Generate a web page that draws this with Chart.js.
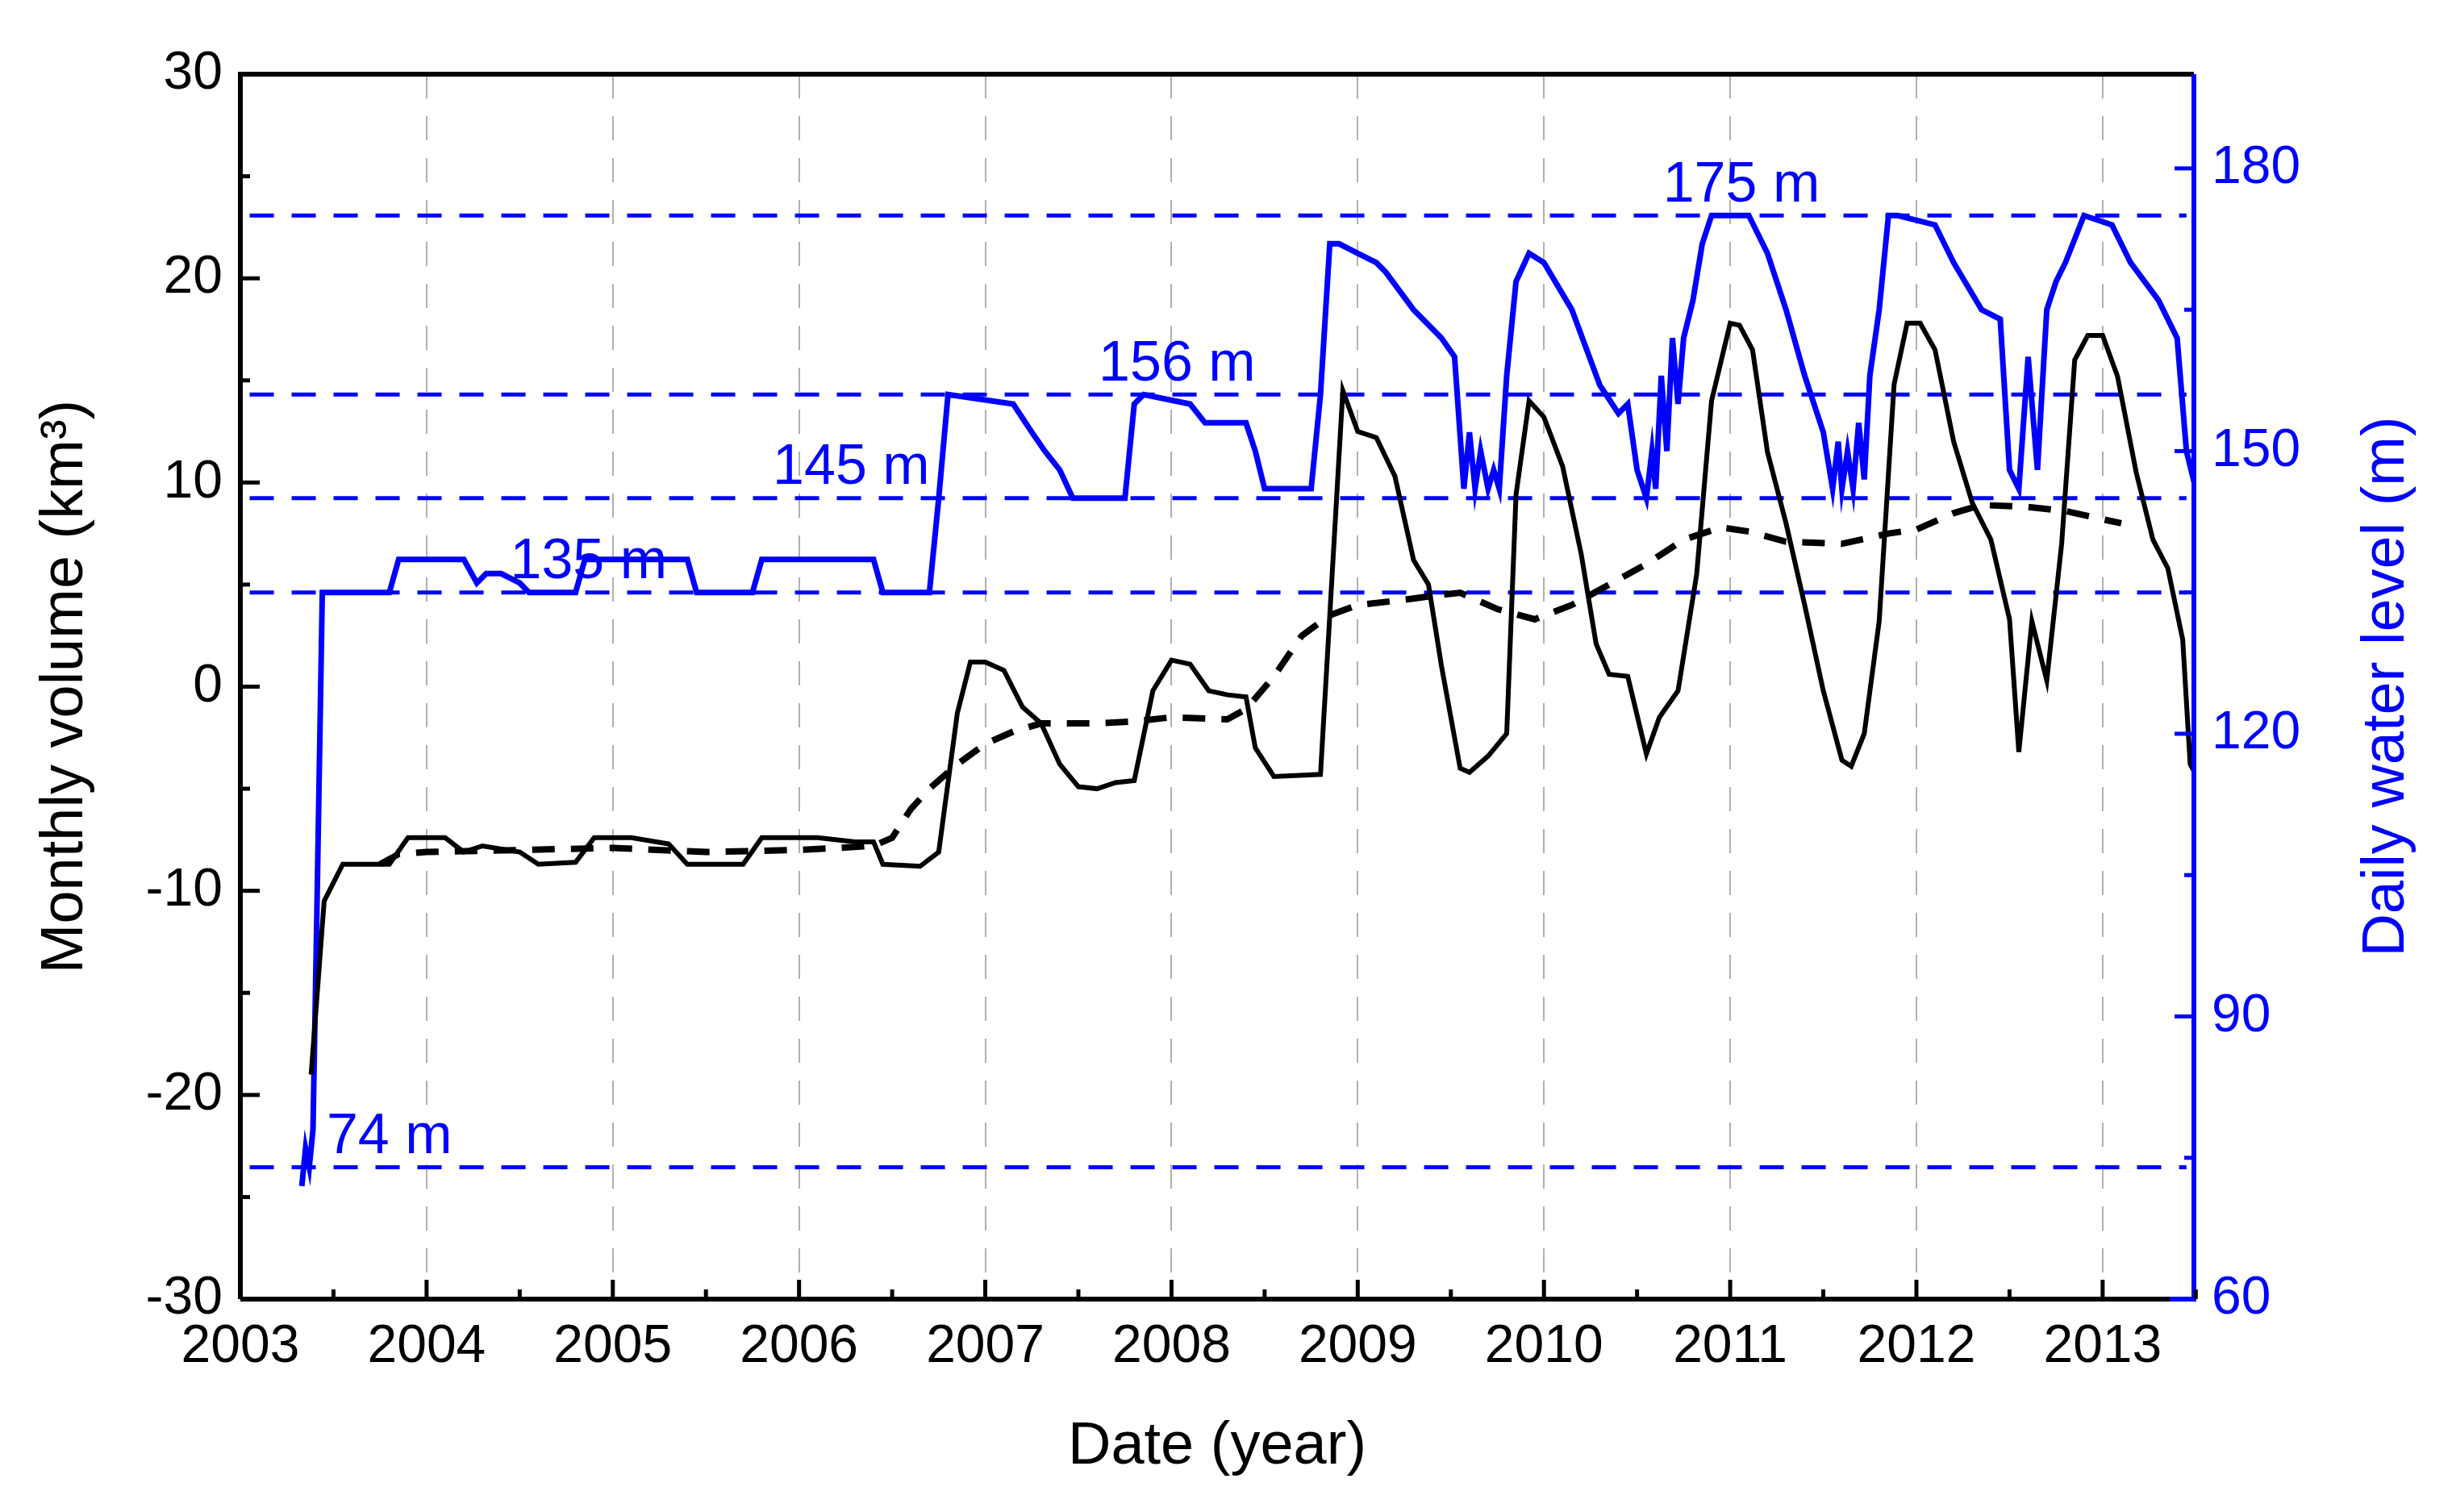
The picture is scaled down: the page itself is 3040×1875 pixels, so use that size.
<!DOCTYPE html>
<html><head><meta charset="utf-8">
<script src="https://cdn.jsdelivr.net/npm/chart.js@4/dist/chart.umd.min.js"></script>
<style>html,body{margin:0;padding:0;background:#fff}#wrap{width:3040px;height:1875px}</style>
</head><body><div id="wrap"><canvas id="c" width="3040" height="1875"></canvas></div>
<script>
const levelYears=[2003.33,2003.35,2003.37,2003.39,2003.41,2003.44,2003.46,2003.8,2003.85,2004.2,2004.27,2004.32,2004.4,2004.5,2004.55,2004.8,2004.85,2005.4,2005.45,2005.75,2005.8,2006.4,2006.45,2006.7,2006.75,2006.8,2007.15,2007.25,2007.32,2007.4,2007.47,2007.75,2007.8,2007.85,2008.1,2008.18,2008.4,2008.45,2008.5,2008.75,2008.8,2008.85,2008.9,2009.0,2009.1,2009.15,2009.3,2009.45,2009.52,2009.57,2009.6,2009.63,2009.66,2009.7,2009.73,2009.76,2009.8,2009.85,2009.92,2010.0,2010.15,2010.3,2010.4,2010.45,2010.5,2010.55,2010.58,2010.6,2010.63,2010.66,2010.69,2010.72,2010.75,2010.8,2010.85,2010.9,2011.1,2011.2,2011.3,2011.4,2011.5,2011.55,2011.58,2011.6,2011.63,2011.66,2011.69,2011.72,2011.75,2011.8,2011.85,2011.9,2012.1,2012.2,2012.35,2012.45,2012.5,2012.55,2012.6,2012.65,2012.7,2012.75,2012.8,2012.9,2013.05,2013.15,2013.3,2013.4,2013.45,2013.5];
const levelValues=[72,76,74,78,100,135,135,135,138.5,138.5,136,137,137,136,135,135,138.5,138.5,135,135,138.5,138.5,135,135,145,156,155,152,150,148,145,145,155,156,155,153,153,150,146,146,156,172,172,171,170,169,165,162,160,146,152,146,150,146,148,146,158,168,171,170,165,157,154,155,148,145,150,146,158,150,162,155,162,166,172,175,175,171,165,158,152,146,151,146,150,146,153,147,158,165,175,175,174,170,165,164,148,146,160,148,165,168,170,175,174,170,166,162,150,146];
const volYears=[2003.38,2003.45,2003.55,2003.8,2003.9,2004.1,2004.2,2004.3,2004.5,2004.6,2004.8,2004.9,2005.1,2005.3,2005.4,2005.7,2005.8,2006.1,2006.3,2006.4,2006.45,2006.65,2006.75,2006.85,2006.92,2007.0,2007.1,2007.2,2007.3,2007.4,2007.5,2007.6,2007.7,2007.8,2007.9,2008.0,2008.1,2008.2,2008.3,2008.4,2008.45,2008.55,2008.8,2008.85,2008.92,2009.0,2009.1,2009.2,2009.3,2009.38,2009.45,2009.55,2009.6,2009.7,2009.8,2009.85,2009.92,2010.0,2010.1,2010.2,2010.28,2010.35,2010.45,2010.55,2010.62,2010.72,2010.82,2010.9,2011.0,2011.05,2011.12,2011.2,2011.3,2011.4,2011.5,2011.6,2011.65,2011.72,2011.8,2011.88,2011.95,2012.02,2012.1,2012.2,2012.3,2012.4,2012.5,2012.55,2012.62,2012.7,2012.78,2012.85,2012.92,2013.0,2013.08,2013.18,2013.27,2013.35,2013.43,2013.47,2013.5];
const volValues=[-19,-10.5,-8.7,-8.7,-7.4,-7.4,-8.1,-7.8,-8.1,-8.7,-8.6,-7.4,-7.4,-7.7,-8.7,-8.7,-7.4,-7.4,-7.6,-7.6,-8.7,-8.8,-8.1,-1.3,1.2,1.2,0.8,-1,-1.8,-3.8,-4.9,-5,-4.7,-4.6,-0.2,1.3,1.1,-0.2,-0.4,-0.5,-3,-4.4,-4.3,3.5,14.5,12.5,12.2,10.3,6.2,5.0,1.0,-4,-4.2,-3.4,-2.3,9.4,14,13.2,10.8,6.5,2.1,0.6,0.5,-3.3,-1.5,-0.2,5.5,14,17.8,17.7,16.5,11.5,8,4,-0.2,-3.6,-3.9,-2.3,3.2,14.8,17.8,17.8,16.5,12,9,7.2,3.3,-3.2,3.2,0.3,7,16,17.2,17.2,15.2,10.5,7.2,5.8,2.3,-3.8,-4.3];
const trendYears=[2003.75,2003.85,2004.0,2004.5,2005.0,2005.5,2006.0,2006.4,2006.5,2006.6,2006.7,2006.85,2007.0,2007.15,2007.3,2007.6,2007.8,2008.0,2008.3,2008.4,2008.55,2008.7,2008.85,2009.0,2009.2,2009.45,2009.55,2009.75,2009.95,2010.15,2010.35,2010.55,2010.75,2010.95,2011.1,2011.3,2011.6,2011.85,2012.0,2012.2,2012.35,2012.6,2012.8,2013.0,2013.1];
const trendValues=[-8.7,-8.2,-8.1,-8.0,-7.9,-8.1,-8.0,-7.8,-7.4,-6,-5,-3.8,-2.8,-2.2,-1.8,-1.8,-1.7,-1.5,-1.6,-1.1,0.5,2.5,3.5,4,4.2,4.5,4.6,3.8,3.3,4,5,6,7.2,7.8,7.6,7.1,7.0,7.5,7.7,8.5,8.9,8.8,8.6,8.2,8.0];
const refLevels=[175,156,145,135,74];
const refLabels=[{t:'175 m',x:2011.06,y:176.5},{t:'156 m',x:2008.03,y:157.5},{t:'145 m',x:2006.28,y:146.5},{t:'135 m',x:2004.87,y:136.5},{t:'74 m',x:2003.8,y:75.5}];
const xTicks=[2003,2004,2005,2006,2007,2008,2009,2010,2011,2012,2013];
const BLUE='#0000ff';
const pts=(xs,ys)=>xs.map((x,i)=>({x:x,y:ys[i]}));
const datasets=[];
refLevels.forEach(v=>datasets.push({data:[{x:2003.05,y:v},{x:2013.45,y:v}],yAxisID:'y2',borderColor:BLUE,borderWidth:5,borderDash:[30,22],pointRadius:0,order:3}));
datasets.push({data:pts(levelYears,levelValues),yAxisID:'y2',borderColor:BLUE,borderWidth:7,pointRadius:0,tension:0,order:2});
datasets.push({data:pts(trendYears,trendValues),yAxisID:'y',borderColor:'#000',borderWidth:8,borderDash:[28,20],pointRadius:0,order:1});
datasets.push({data:pts(volYears,volValues),yAxisID:'y',borderColor:'#000',borderWidth:6,pointRadius:0,order:0});
const FONT='Arial, "Liberation Sans", sans-serif';
const deco={id:'deco',afterDraw(ch){
 const c=ch.ctx,a=ch.chartArea,x=ch.scales.x,y=ch.scales.y,y2=ch.scales.y2;
 c.save();
 c.setLineDash([]);
 c.lineWidth=6;c.strokeStyle='#000';
 c.beginPath();c.moveTo(a.left,a.bottom);c.lineTo(a.left,a.top);c.lineTo(a.right,a.top);c.stroke();
 c.beginPath();c.moveTo(a.left,a.bottom);c.lineTo(a.right-30,a.bottom);c.stroke();
 c.strokeStyle=BLUE;c.beginPath();c.moveTo(a.right-30,a.bottom);c.lineTo(a.right,a.bottom);c.lineTo(a.right,a.top);c.stroke();
 c.lineWidth=5;c.strokeStyle='#000';
 for(let v=-30;v<=30;v+=5){const p=y.getPixelForValue(v);const L=v%10===0?24:12;c.beginPath();c.moveTo(a.left,p);c.lineTo(a.left+L,p);c.stroke();}
 for(let v=2003;v<=2013.5;v+=0.5){const p=x.getPixelForValue(v);const L=Math.abs(v-Math.round(v))<0.01?24:12;c.beginPath();c.moveTo(p,a.bottom);c.lineTo(p,a.bottom-L);c.stroke();}
 c.strokeStyle=BLUE;
 for(let v=60;v<=190;v+=15){const p=y2.getPixelForValue(v);const L=v%30===0?24:12;c.beginPath();c.moveTo(a.right,p);c.lineTo(a.right-L,p);c.stroke();}
 c.fillStyle=BLUE;c.font='70px '+FONT;c.textAlign='center';c.textBaseline='alphabetic';
 refLabels.forEach(l=>c.fillText(l.t,x.getPixelForValue(l.x),y2.getPixelForValue(l.y)));
 c.font='74px '+FONT;
 c.fillStyle='#000';c.fillText('Date (year)',(a.left+a.right)/2,1815);
 c.save();c.translate(82,(a.top+a.bottom)/2);c.rotate(-Math.PI/2);c.textBaseline='middle';c.fillText('Monthly volume (km³)',0,0);c.restore();
 c.save();c.fillStyle=BLUE;c.translate(2960,(a.top+a.bottom)/2);c.rotate(-Math.PI/2);c.textBaseline='middle';c.fillText('Daily water level (m)',0,0);c.restore();
 c.restore();
}};
new Chart(document.getElementById('c'),{type:'line',data:{datasets},plugins:[deco],
 options:{responsive:false,animation:false,devicePixelRatio:1,
  layout:{padding:{top:92}},
  plugins:{legend:{display:false},tooltip:{enabled:false}},
  scales:{
   x:{type:'linear',min:2003,max:2013.49,afterBuildTicks:s=>{s.ticks=xTicks.map(v=>({value:v}));},afterFit:s=>{s.height=264;},
      border:{display:false,dash:[30,22]},grid:{display:true,color:'#b0b0b0',lineWidth:2,drawTicks:false},
      ticks:{padding:20,color:'#000',font:{size:66,family:FONT},callback:v=>String(v),maxRotation:0}},
   y:{position:'left',min:-30,max:30,afterFit:s=>{s.width=298;},border:{display:false},grid:{display:false,drawTicks:false},
      ticks:{stepSize:10,padding:22,color:'#000',font:{size:66,family:FONT}}},
   y2:{position:'right',min:60,max:190,afterBuildTicks:s=>{s.ticks=[60,90,120,150,180].map(v=>({value:v}));},afterFit:s=>{s.width=320;},border:{display:false},grid:{display:false,drawTicks:false},
      ticks:{padding:22,color:BLUE,font:{size:66,family:FONT}}}
  }}});
</script></body></html>
